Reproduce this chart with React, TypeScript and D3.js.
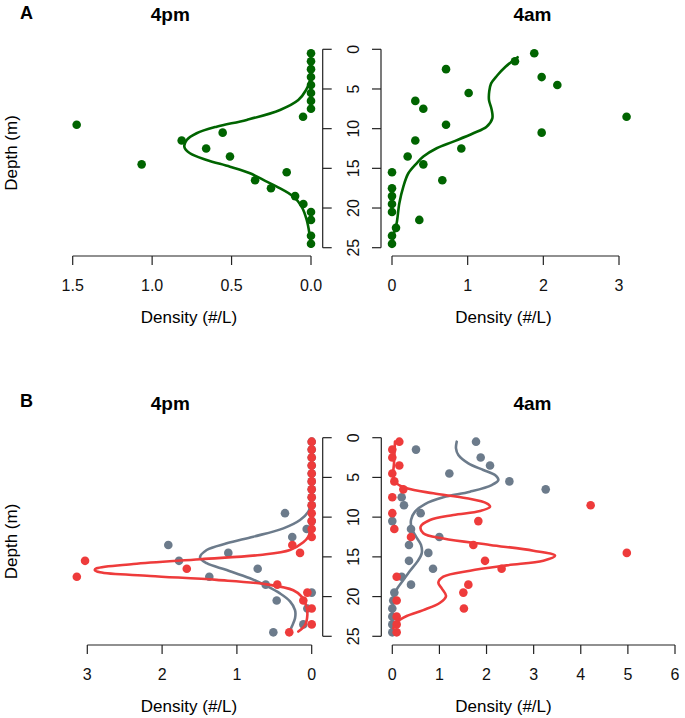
import React from "react";
import * as d3 from "d3";

// ---------- tick values ----------
const depthTicks = [0, 5, 10, 15, 20, 25];
const ticksA4pm = [0, 0.5, 1.0, 1.5];
const ticksA4am = [0, 1, 2, 3];
const ticksB4pm = [0, 1, 2, 3];
const ticksB4am = [0, 1, 2, 3, 4, 5, 6];

// ---------- Panel A, 4pm (green) ----------
const a4pmDepth = [0.5, 1.5, 2.5, 3.5, 4.5, 5.5, 6.5, 7.5, 8.5, 9.5, 10.5, 11.5, 12.5, 13.5, 14.5, 15.5, 16.5, 17.5, 18.5, 19.5, 20.5, 21.5, 23.5, 24.5];
const a4pmValue = [0, 0, 0, 0, 0, 0, 0, 0, 0.05, 1.475, 0.556, 0.814, 0.66, 0.51, 1.066, 0.153, 0.352, 0.252, 0.1, 0.048, 0, 0, 0, 0];
const a4pmFitDepth = [0.5, 2.5, 3.87, 5.13, 6.39, 7.64, 8.9, 9.75, 10.58, 11.42, 12.3, 13.1, 13.94, 14.79, 15.62, 16.46, 17.3, 18.56, 19.82, 21.5, 23.2, 24.86];
const a4pmFitValue = [0.0, 0.002, 0.006, 0.031, 0.08, 0.195, 0.405, 0.594, 0.72, 0.782, 0.797, 0.762, 0.657, 0.51, 0.384, 0.3, 0.216, 0.111, 0.059, 0.027, 0.01, 0.0];

// ---------- Panel A, 4am (green) ----------
const a4amDepth = [0.5, 1.5, 2.5, 3.5, 4.5, 5.5, 6.5, 7.5, 8.5, 9.5, 10.5, 11.5, 12.5, 13.5, 14.5, 15.5, 16.5, 17.5, 18.5, 19.5, 20.5, 21.5, 22.5, 23.5, 24.5];
const a4amValue = [1.88, 1.625, 0.714, 1.978, 2.185, 1.013, 0.308, 0.414, 3.1, 0.714, 1.978, 0.308, 0.916, 0.207, 0.414, 0, 0.665, 0, 0, 0, 0, 0.361, 0.053, 0, 0];
const a4amFitDepth = [1.0, 2.2, 3.3, 4.3, 5.3, 6.4, 7.6, 8.7, 9.75, 10.58, 11.63, 12.47, 13.52, 14.36, 15.62, 17.3, 19.4, 21.9, 23.2, 24.9];
const a4amFitValue = [1.66, 1.5, 1.39, 1.31, 1.285, 1.282, 1.317, 1.326, 1.25, 1.075, 0.81, 0.59, 0.414, 0.326, 0.216, 0.15, 0.097, 0.062, 0.026, 0.0];

// ---------- Panel B, 4pm ----------
const b4pmRedDepth = [0.5, 1.5, 2.5, 3.5, 4.5, 5.5, 6.5, 7.5, 8.5, 9.5, 10.5, 11.5, 12.5, 13.5, 14.5, 15.5, 16.5, 17.5, 18.5, 19.5, 20.5, 21.5, 23.5, 24.5];
const b4pmRedValue = [0, 0, 0, 0, 0, 0, 0, 0, 0, 0, 0, 0, 0, 0.259, 0.156, 3.03, 1.67, 3.14, 0.46, 0.058, 0.112, 0, 0, 0.3];
const b4pmGreyDepth = [0.5, 1.5, 2.5, 3.5, 4.5, 5.5, 6.5, 7.5, 8.5, 9.5, 10.5, 11.5, 12.5, 13.5, 14.5, 15.5, 16.5, 17.5, 18.5, 19.5, 20.5, 21.5, 23.5, 24.5];
const b4pmGreyValue = [0, 0, 0, 0, 0, 0, 0, 0, 0, 0.357, 0, 0.067, 0.26, 1.917, 1.115, 1.774, 0.722, 1.369, 0.615, 0, 0.468, 0.058, 0.112, 0.513];
const b4pmGreyFitDepth = [0.5, 4.0, 8.26, 9.31, 10.36, 11.41, 12.46, 13.3, 14.14, 15.1, 15.8, 16.66, 17.7, 18.67, 19.6, 20.6, 21.7, 22.74, 23.8, 24.3];
const b4pmGreyFitValue = [0.0, 0.0, 0.013, 0.045, 0.156, 0.379, 0.78, 1.136, 1.404, 1.493, 1.404, 1.136, 0.825, 0.602, 0.424, 0.29, 0.223, 0.223, 0.267, 0.29];
const b4pmRedFitDepth = [0.5, 6.0, 11.2, 12.46, 13.17, 14.14, 14.76, 15.3, 15.9, 16.44, 16.65, 16.95, 17.4, 17.9, 18.46, 19.2, 20.0, 21.06, 22.3, 23.6, 24.4];
const b4pmRedFitValue = [0.0, 0.0, 0.013, 0.045, 0.112, 0.29, 0.69, 1.49, 2.385, 2.875, 2.9, 2.83, 2.16, 1.27, 0.6, 0.246, 0.134, 0.076, 0.058, 0.09, 0.179];

// ---------- Panel B, 4am ----------
const b4amDepth = [0.5, 1.5, 2.5, 3.5, 4.5, 5.5, 6.5, 7.5, 8.5, 9.5, 10.5, 11.5, 12.5, 13.5, 14.5, 15.5, 16.5, 17.5, 18.5, 19.5, 20.5, 21.5, 22.5, 23.5, 24.5];
const b4amRedValue = [0.149, 0, 0, 0.149, 0, 0.043, 0.234, 0, 4.21, 0, 1.826, 0.043, 0.397, 1.72, 4.977, 1.968, 2.32, 0.093, 1.614, 1.508, 0.093, 1.52, 0.093, 0.093, 0.093];
const b4amGreyValue = [1.777, 0.503, 1.876, 2.074, 1.211, 2.485, 3.256, 0.199, 0.248, 0.602, 0, 0.397, 0.998, 0.354, 0.765, 0.354, 0.864, 0.199, 0.397, 0.043, 0.02, 0, 0, 0, 0];
const b4amGreyFitDepth = [0.5, 1.34, 2.18, 3.23, 4.07, 4.7, 5.33, 5.96, 6.8, 7.5, 8.35, 9.31, 10.36, 11.41, 12.46, 13.5, 14.56, 15.6, 16.66, 17.92, 19.1, 20.23, 22.1, 24.5];
const b4amGreyFitValue = [1.367, 1.352, 1.402, 1.614, 1.932, 2.18, 2.251, 2.11, 1.65, 1.083, 0.694, 0.482, 0.397, 0.411, 0.503, 0.609, 0.624, 0.531, 0.39, 0.234, 0.093, 0.021, 0.0, 0.0];
const b4amRedFitDepth = [0.5, 3.23, 4.9, 5.74, 6.37, 7.0, 7.63, 8.26, 8.68, 9.23, 9.73, 10.36, 11.2, 12.04, 12.7, 13.5, 14.22, 14.85, 15.48, 16.07, 16.74, 17.5, 18.25, 18.97, 19.93, 20.77, 21.7, 22.44, 23.16, 24.0];
const b4amRedFitValue = [0.057, 0.036, 0.021, 0.093, 0.306, 0.871, 1.579, 2.004, 2.074, 1.862, 1.295, 0.8, 0.602, 0.658, 1.083, 2.074, 2.994, 3.454, 3.206, 2.429, 1.65, 1.083, 0.977, 1.049, 1.14, 1.013, 0.658, 0.306, 0.106, 0.021];

// ---------- styles ----------
const GREEN = "#006400";
const RED = "#EE3B3B";
const GREY = "#6C7B8B";
const AXIS = "#222";
const FONT = "'Liberation Sans', Arial, Helvetica, sans-serif";

type Series = { depth: number[]; value: number[]; color: string; kind: "points" | "line" };

type PanelProps = {
  xDomain: [number, number];
  xRange: [number, number];
  yRange: [number, number];
  yAxisX: number;
  yAxisSide: "left" | "right";
  showYLabels: boolean;
  xAxisY: number;
  xTicks: number[];
  xFmt: (v: number) => string;
  series: Series[];
};

function Panel(p: PanelProps) {
  const x = d3.scaleLinear().domain(p.xDomain).range(p.xRange);
  const y = d3.scaleLinear().domain([0, 25]).range(p.yRange);
  const tick = 9;
  const dir = p.yAxisSide === "left" ? -1 : 1;
  const line = d3
    .line<[number, number]>()
    .x((d) => x(d[0]))
    .y((d) => y(d[1]))
    .curve(d3.curveCatmullRom.alpha(0.5));
  const xs = p.xTicks.map((t) => x(t));
  return (
    <g>
      {/* y axis */}
      <line x1={p.yAxisX} x2={p.yAxisX} y1={y(0)} y2={y(25)} stroke={AXIS} strokeWidth={1.2} />
      {depthTicks.map((t) => (
        <g key={"yt" + t}>
          <line x1={p.yAxisX} x2={p.yAxisX + dir * tick} y1={y(t)} y2={y(t)} stroke={AXIS} strokeWidth={1.2} />
          {p.showYLabels && (
            <text
              transform={`translate(${p.yAxisX - 22.5},${y(t)}) rotate(-90)`}
              textAnchor="middle"
              fontFamily={FONT}
              fontSize={16}
              fill="#111"
            >
              {t}
            </text>
          )}
        </g>
      ))}
      {/* x axis */}
      <line x1={d3.min(xs)!} x2={d3.max(xs)!} y1={p.xAxisY} y2={p.xAxisY} stroke={AXIS} strokeWidth={1.2} />
      {p.xTicks.map((t) => (
        <g key={"xt" + t}>
          <line x1={x(t)} x2={x(t)} y1={p.xAxisY} y2={p.xAxisY + tick} stroke={AXIS} strokeWidth={1.2} />
          <text x={x(t)} y={p.xAxisY + 35} textAnchor="middle" fontFamily={FONT} fontSize={16} fill="#111">
            {p.xFmt(t)}
          </text>
        </g>
      ))}
      {p.series.map((s, i) =>
        s.kind === "points" ? (
          <g key={"s" + i}>
            {s.value.map((v, j) => (
              <circle key={j} cx={x(v)} cy={y(s.depth[j])} r={4.3} fill={s.color} />
            ))}
          </g>
        ) : (
          <path
            key={"s" + i}
            d={line(s.value.map((v, j) => [v, s.depth[j]] as [number, number])) || ""}
            fill="none"
            stroke={s.color}
            strokeWidth={2.6}
            strokeLinecap="round"
            strokeLinejoin="round"
          />
        )
      )}
    </g>
  );
}

const fmt1 = d3.format(".1f");
const fmt0 = d3.format("d");

export default function App() {
  return (
    <svg width={685} height={718} style={{ position: "absolute", left: 0, top: 0, background: "#fff" }}>
      <rect x={0} y={0} width={685} height={718} fill="#fff" />
      {/* panel letters and titles */}
      <text x={20} y={18.5} fontFamily={FONT} fontSize={18} fontWeight="bold">A</text>
      <text x={20} y={406.5} fontFamily={FONT} fontSize={18} fontWeight="bold">B</text>
      <text x={170.3} y={21} textAnchor="middle" fontFamily={FONT} fontSize={19} fontWeight="bold">4pm</text>
      <text x={532.5} y={21} textAnchor="middle" fontFamily={FONT} fontSize={19} fontWeight="bold">4am</text>
      <text x={170.3} y={410} textAnchor="middle" fontFamily={FONT} fontSize={19} fontWeight="bold">4pm</text>
      <text x={532.5} y={410} textAnchor="middle" fontFamily={FONT} fontSize={19} fontWeight="bold">4am</text>

      {/* axis titles */}
      <text transform="translate(16.5,153) rotate(-90)" textAnchor="middle" fontFamily={FONT} fontSize={17}>Depth (m)</text>
      <text transform="translate(16.5,541.5) rotate(-90)" textAnchor="middle" fontFamily={FONT} fontSize={17}>Depth (m)</text>
      <text x={189} y={323} textAnchor="middle" fontFamily={FONT} fontSize={17}>Density (#/L)</text>
      <text x={503.5} y={323} textAnchor="middle" fontFamily={FONT} fontSize={17}>Density (#/L)</text>
      <text x={189} y={711.5} textAnchor="middle" fontFamily={FONT} fontSize={17}>Density (#/L)</text>
      <text x={503.5} y={711.5} textAnchor="middle" fontFamily={FONT} fontSize={17}>Density (#/L)</text>

      <Panel
        xDomain={[0, 1.5]}
        xRange={[311, 72.7]}
        yRange={[49.3, 247.7]}
        yAxisX={322.7}
        yAxisSide="right"
        showYLabels={false}
        xAxisY={256}
        xTicks={ticksA4pm}
        xFmt={fmt1}
        series={[
          { depth: a4pmDepth, value: a4pmValue, color: GREEN, kind: "points" },
          { depth: a4pmFitDepth, value: a4pmFitValue, color: GREEN, kind: "line" },
        ]}
      />
      <Panel
        xDomain={[0, 3]}
        xRange={[392, 619]}
        yRange={[49.3, 247.7]}
        yAxisX={381}
        yAxisSide="left"
        showYLabels={true}
        xAxisY={256}
        xTicks={ticksA4am}
        xFmt={fmt0}
        series={[
          { depth: a4amDepth, value: a4amValue, color: GREEN, kind: "points" },
          { depth: a4amFitDepth, value: a4amFitValue, color: GREEN, kind: "line" },
        ]}
      />
      <Panel
        xDomain={[0, 3]}
        xRange={[311.7, 87.3]}
        yRange={[437.7, 636.3]}
        yAxisX={322.7}
        yAxisSide="right"
        showYLabels={false}
        xAxisY={645}
        xTicks={ticksB4pm}
        xFmt={fmt0}
        series={[
          { depth: b4pmGreyDepth, value: b4pmGreyValue, color: GREY, kind: "points" },
          { depth: b4pmGreyFitDepth, value: b4pmGreyFitValue, color: GREY, kind: "line" },
          { depth: b4pmRedDepth, value: b4pmRedValue, color: RED, kind: "points" },
          { depth: b4pmRedFitDepth, value: b4pmRedFitValue, color: RED, kind: "line" },
        ]}
      />
      <Panel
        xDomain={[0, 6]}
        xRange={[392.3, 675]}
        yRange={[437.7, 636.3]}
        yAxisX={381.3}
        yAxisSide="left"
        showYLabels={true}
        xAxisY={645}
        xTicks={ticksB4am}
        xFmt={fmt0}
        series={[
          { depth: b4amDepth, value: b4amGreyValue, color: GREY, kind: "points" },
          { depth: b4amGreyFitDepth, value: b4amGreyFitValue, color: GREY, kind: "line" },
          { depth: b4amDepth, value: b4amRedValue, color: RED, kind: "points" },
          { depth: b4amRedFitDepth, value: b4amRedFitValue, color: RED, kind: "line" },
        ]}
      />
    </svg>
  );
}
